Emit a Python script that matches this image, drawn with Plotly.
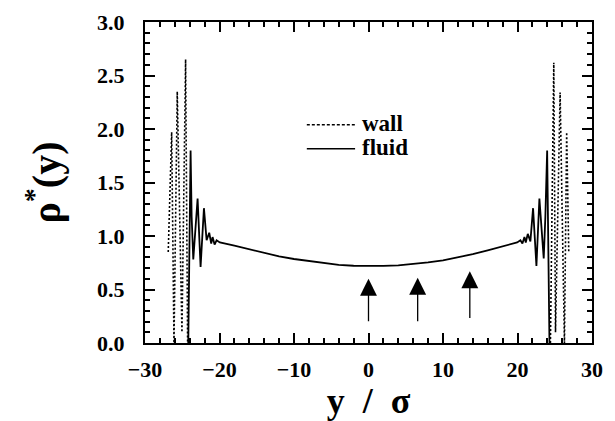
import plotly.graph_objects as go

# ---- data ----
wall_left_x = [-26.88, -26.42, -26.11, -25.67, -25.04, -24.55, -24.28]
wall_left_y = [0.85, 1.97, 0.0, 2.35, 0.10, 2.65, 0.0]
wall_right_x = [24.42, 24.87, 25.10, 25.72, 26.30, 26.60, 26.88]
wall_right_y = [0.0, 2.62, 0.10, 2.34, 0.0, 1.97, 0.85]

fluid_x = [-24.19, -23.88, -23.74, -23.52, -22.94, -22.54, -22.09, -21.73, -21.38,
           -21.11, -20.93, -20.66, -20.39, -19.95, -18.0, -16.0, -14.0, -12.0, -10.0,
           -8.0, -6.0, -4.0, -2.0, 0.0, 2.0, 4.0, 6.0, 8.0, 10.0, 12.0, 14.0, 16.0,
           18.0, 19.95, 20.39, 20.66, 20.93, 21.11, 21.38, 21.73, 22.09, 22.54,
           22.94, 23.52, 23.74, 23.98, 24.29]
fluid_y = [0.0, 1.80, 1.18, 0.78, 1.35, 0.71, 1.26, 0.96, 1.03,
           0.93, 0.99, 0.92, 0.96, 0.94, 0.91, 0.875, 0.84, 0.81, 0.785,
           0.765, 0.745, 0.73, 0.722, 0.718, 0.72, 0.726, 0.738, 0.753, 0.773, 0.80, 0.83, 0.865,
           0.905, 0.94, 0.96, 0.93, 0.99, 0.94, 1.02, 0.95, 1.26, 0.72,
           1.35, 0.79, 1.18, 1.80, 0.0]

arrow_x = [0.0, 6.6, 13.6]
arrow_tip = [0.60, 0.61, 0.67]
arrow_tail = [0.19, 0.19, 0.22]

x_range = [-30, 30]
y_range = [0, 3]
x_major, x_minor = 10, 2
y_major, y_minor = 0.5, 0.1

legend_names = ["wall", "fluid"]
legend_dash = ["3px,2px", "solid"]

FONT = "Liberation Serif"

fig = go.Figure()
fig.add_trace(go.Scatter(
    x=wall_left_x + [None] + wall_right_x,
    y=wall_left_y + [None] + wall_right_y,
    mode="lines", name="wall", showlegend=False,
    line=dict(color="black", width=1.6, dash="2px,2px"),
    connectgaps=False, hoverinfo="skip",
))
fig.add_trace(go.Scatter(
    x=fluid_x, y=fluid_y, mode="lines", name="fluid", showlegend=False,
    line=dict(color="black", width=1.8), hoverinfo="skip",
))

for ax_, tip, tail in zip(arrow_x, arrow_tip, arrow_tail):
    fig.add_annotation(
        x=ax_, y=tip, ax=ax_, ay=tail, xref="x", yref="y", axref="x", ayref="y",
        showarrow=True, arrowhead=2, arrowsize=2.6, arrowwidth=1.3,
        arrowcolor="black", text="",
    )

# manual legend (line samples + labels)
leg_x0, leg_x1, leg_tx = 0.362, 0.47, 0.482
leg_y = [0.68, 0.605]
for name, dash, yy in zip(legend_names, legend_dash, leg_y):
    fig.add_shape(type="line", xref="paper", yref="paper", x0=leg_x0, x1=leg_x1,
                  y0=yy, y1=yy, line=dict(color="black", width=1.6, dash=dash))
    fig.add_annotation(xref="paper", yref="paper", x=leg_tx, y=yy + 0.004, text=f"<b>{name}</b>",
                       showarrow=False, xanchor="left", yanchor="middle",
                       font=dict(family=FONT, size=23, color="black"))

axis_common = dict(
    showline=True, linecolor="black", linewidth=2, mirror="allticks",
    ticks="inside", ticklen=10, tickwidth=2, tickcolor="black",
    showgrid=False, zeroline=False, automargin=False, layer="above traces",
    tickfont=dict(family=FONT, size=22, color="black", weight="bold"),
)

fig.update_xaxes(
    range=x_range, tickmode="linear", tick0=x_range[0], dtick=x_major,
    minor=dict(ticks="inside", dtick=x_minor, ticklen=5, tickwidth=2, tickcolor="black", showgrid=False),
    ticklabelstandoff=6,
    title=dict(text="<b>y  /  σ</b>", font=dict(family=FONT, size=36, color="black"), standoff=4),
    **axis_common,
)
fig.update_yaxes(
    range=y_range, tickmode="linear", tick0=y_range[0], dtick=y_major, tickformat=".1f",
    minor=dict(ticks="inside", dtick=y_minor, ticklen=5, tickwidth=2, tickcolor="black", showgrid=False),
    ticklabelstandoff=14,
    title=dict(text="<b>ρ<sup>*</sup>(y)</b>", font=dict(family=FONT, size=40, color="black"), standoff=24),
    **axis_common,
)

fig.update_layout(
    template="none",
    width=615, height=421,
    margin=dict(l=145, r=23, t=22, b=78, autoexpand=False),
    paper_bgcolor="white", plot_bgcolor="white",
    showlegend=False,
)

fig.write_html("out.html", config={"displayModeBar": False},
               post_script="document.body.style.margin='0';document.body.style.overflow='hidden';")
